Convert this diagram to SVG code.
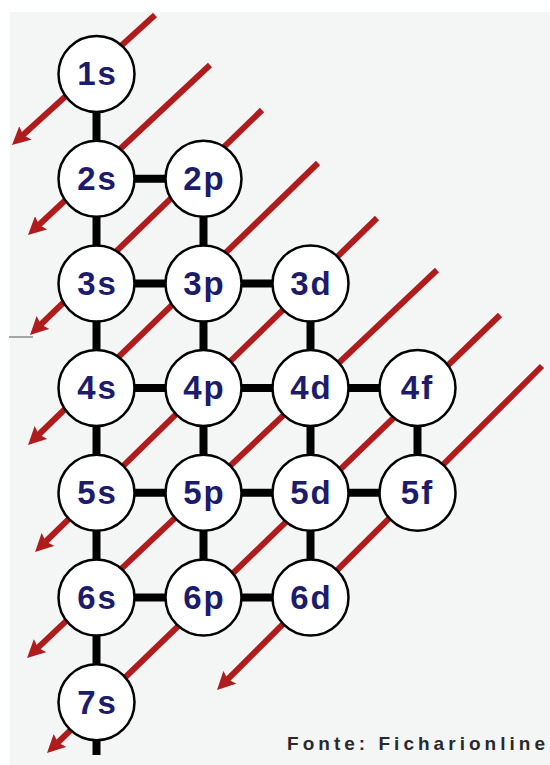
<svg xmlns="http://www.w3.org/2000/svg" width="550" height="765" viewBox="0 0 550 765">
  <defs>
    <style>
      .arrow { stroke: #b01c1c; stroke-width: 6; fill: none; marker-end: url(#head); }
      .link { stroke: #000; stroke-width: 8; fill: none; }
      .node circle { fill: #ffffff; stroke: #000; stroke-width: 2.5; }
      .node text { font-family: "Liberation Sans", Arial, sans-serif; font-weight: bold; font-size: 33px; fill: #1c1c6b; text-anchor: middle; letter-spacing: 2px; }
      .source { font-family: "Liberation Sans", Arial, sans-serif; font-weight: bold; font-size: 19px; fill: #2a2a2a; }
    </style>
    <marker id="head" markerUnits="userSpaceOnUse" markerWidth="18" markerHeight="18" refX="8" refY="9" orient="auto" viewBox="0 0 18 18">
      <path d="M0,0 L18,9 L0,18 L3,9 Z" fill="#b01c1c"/>
    </marker>
  </defs>

  <rect x="0" y="0" width="550" height="765" fill="#ffffff"/>
  <rect x="10" y="12" width="540" height="753" fill="#f4f6f6"/>
  <line x1="9" y1="337" x2="33" y2="337" stroke="#8a8a8a" stroke-width="1.5"/>

  <g id="arrows">
    <line class="arrow" x1="155" y1="15" x2="19.4" y2="138.3"/>
    <line class="arrow" x1="210" y1="65" x2="35.3" y2="228.2"/>
    <line class="arrow" x1="262" y1="110" x2="37.2" y2="328.0"/>
    <line class="arrow" x1="318" y1="163" x2="35.2" y2="438.0"/>
    <line class="arrow" x1="377" y1="218" x2="42.2" y2="545.0"/>
    <line class="arrow" x1="437" y1="270" x2="34.3" y2="651.1"/>
    <line class="arrow" x1="500" y1="315" x2="54.2" y2="746.0"/>
    <line class="arrow" x1="542" y1="366" x2="224.1" y2="682.9"/>
  </g>

  <g id="connectors">
    <line class="link" x1="96.5" y1="74" x2="96.5" y2="755"/>
    <line class="link" x1="203.5" y1="178.7" x2="203.5" y2="597.5"/>
    <line class="link" x1="310.5" y1="283.4" x2="310.5" y2="597.5"/>
    <line class="link" x1="417.5" y1="388" x2="417.5" y2="492.8"/>
    <line class="link" x1="96.5" y1="178.7" x2="203.5" y2="178.7"/>
    <line class="link" x1="96.5" y1="283.4" x2="310.5" y2="283.4"/>
    <line class="link" x1="96.5" y1="388" x2="417.5" y2="388"/>
    <line class="link" x1="96.5" y1="492.8" x2="417.5" y2="492.8"/>
    <line class="link" x1="96.5" y1="597.5" x2="310.5" y2="597.5"/>
  </g>

  <g id="n1s" class="node"><circle cx="96.5" cy="74" r="38"/><text x="97.5" y="85">1s</text></g>
  <g id="n2s" class="node"><circle cx="96.5" cy="178.7" r="38"/><text x="97.5" y="190">2s</text></g>
  <g id="n2p" class="node"><circle cx="203.5" cy="178.7" r="38"/><text x="204.5" y="190">2p</text></g>
  <g id="n3s" class="node"><circle cx="96.5" cy="283.4" r="38"/><text x="97.5" y="294.5">3s</text></g>
  <g id="n3p" class="node"><circle cx="203.5" cy="283.4" r="38"/><text x="204.5" y="294.5">3p</text></g>
  <g id="n3d" class="node"><circle cx="310.5" cy="283.4" r="38"/><text x="311.5" y="294.5">3d</text></g>
  <g id="n4s" class="node"><circle cx="96.5" cy="388" r="38"/><text x="97.5" y="399">4s</text></g>
  <g id="n4p" class="node"><circle cx="203.5" cy="388" r="38"/><text x="204.5" y="399">4p</text></g>
  <g id="n4d" class="node"><circle cx="310.5" cy="388" r="38"/><text x="311.5" y="399">4d</text></g>
  <g id="n4f" class="node"><circle cx="417.5" cy="388" r="38"/><text x="417.5" y="399">4f</text></g>
  <g id="n5s" class="node"><circle cx="96.5" cy="492.8" r="38"/><text x="97.5" y="504">5s</text></g>
  <g id="n5p" class="node"><circle cx="203.5" cy="492.8" r="38"/><text x="204.5" y="504">5p</text></g>
  <g id="n5d" class="node"><circle cx="310.5" cy="492.8" r="38"/><text x="311.5" y="504">5d</text></g>
  <g id="n5f" class="node"><circle cx="417.5" cy="492.8" r="38"/><text x="417.5" y="504">5f</text></g>
  <g id="n6s" class="node"><circle cx="96.5" cy="597.5" r="38"/><text x="97.5" y="609">6s</text></g>
  <g id="n6p" class="node"><circle cx="203.5" cy="597.5" r="38"/><text x="204.5" y="609">6p</text></g>
  <g id="n6d" class="node"><circle cx="310.5" cy="597.5" r="38"/><text x="311.5" y="609">6d</text></g>
  <g id="n7s" class="node"><circle cx="96.5" cy="702.2" r="38"/><text x="97.5" y="713.5">7s</text></g>

  <text class="source" x="287" y="750" textLength="258" lengthAdjust="spacing">Fonte: Ficharionline</text>
</svg>
